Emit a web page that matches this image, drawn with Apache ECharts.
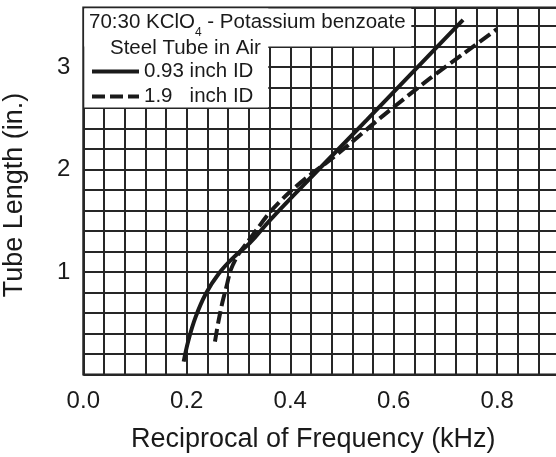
<!DOCTYPE html>
<html>
<head>
<meta charset="utf-8">
<script src="https://cdn.jsdelivr.net/npm/echarts@6/dist/echarts.min.js"></script>
<style>html,body{margin:0;padding:0;background:#fff;}#c{width:556px;height:457px;}</style>
</head>
<body>
<div id="c"></div>
<script>
// Series 1: 0.93 inch ID (solid)
const solidX = [0.194, 0.203, 0.217, 0.237, 0.262, 0.290, 0.322, 0.361, 0.452, 0.548, 0.641, 0.734];
const solidY = [0.125, 0.330, 0.560, 0.790, 0.985, 1.140, 1.283, 1.507, 1.985, 2.483, 2.971, 3.459];
// Series 2: 1.9 inch ID (dashed)
const dashX = [0.2545, 0.261, 0.269, 0.277, 0.285, 0.299, 0.316, 0.3375, 0.361, 0.399, 0.438, 0.477, 0.515, 0.573, 0.670, 0.734, 0.799];
const dashY = [0.320, 0.512, 0.707, 0.863, 1.020, 1.166, 1.283, 1.429, 1.585, 1.780, 1.946, 2.093, 2.249, 2.498, 2.888, 3.127, 3.368];
const seriesNames = ['0.93 inch ID', '1.9   inch ID'];
const xTickLabels = ['0.0', '0.2', '0.4', '0.6', '0.8'];
const yTickLabels = ['1', '2', '3'];
const xTitle = 'Reciprocal of Frequency (kHz)';
const yTitle = 'Tube Length (in.)';
const legendTitle1 = ['70:30 KClO', '4', ' - Potassium benzoate'];
const legendTitle2 = 'Steel Tube in Air';

const zip = (xs, ys) => xs.map((x, i) => [x, ys[i]]);
const ink = '#1a1a1a';
const font = '"Liberation Sans", Arial, sans-serif';

const chart = echarts.init(document.getElementById('c'), null, {renderer: 'canvas'});
chart.setOption({
  backgroundColor: '#fff',
  animation: false,
  textStyle: {fontFamily: font, color: ink},
  grid: {left: 83.3, top: 7.5, width: 476, height: 367, show: true, borderColor: ink, borderWidth: 2,
         backgroundColor: '#fff', containLabel: false, outerBoundsMode: 'none'},
  xAxis: {
    type: 'value', min: 0, max: 0.92, interval: 0.04,
    axisLine: {show: false}, axisTick: {show: false},
    splitLine: {show: true, lineStyle: {color: '#262626', width: 2}},
    axisLabel: {
      fontSize: 24, color: ink, margin: 15, fontFamily: font,
      formatter: v => { const s = v.toFixed(1); return (Math.abs(v * 5 - Math.round(v * 5)) < 1e-6 && xTickLabels.includes(s)) ? s : ''; }
    },
    name: xTitle, nameLocation: 'middle', nameGap: 52,
    nameTextStyle: {fontSize: 27, color: ink, fontFamily: font, padding: [0, 16, 0, 0]}
  },
  yAxis: {
    type: 'value', min: 0, max: 3.58, interval: 0.2,
    axisLine: {show: false}, axisTick: {show: false},
    splitLine: {show: true, lineStyle: {color: '#262626', width: 2}},
    axisLabel: {
      fontSize: 24, color: ink, margin: 13, fontFamily: font, padding: [9, 0, 0, 0],
      formatter: v => { const s = String(Math.round(v)); return (Math.abs(v - Math.round(v)) < 1e-6 && yTickLabels.includes(s)) ? s : ''; }
    },
    name: yTitle, nameLocation: 'middle', nameGap: 55,
    nameTextStyle: {fontSize: 27, color: ink, fontFamily: font, padding: [0, 8, 0, 0]}
  },
  legend: {
    orient: 'vertical', left: 90, top: 61, padding: 0, itemGap: 4,
    itemWidth: 47, itemHeight: 14, z: 20,
    itemStyle: {opacity: 0},
    lineStyle: {width: 4, color: ink},
    textStyle: {fontSize: 20.5, color: ink, fontFamily: font, lineHeight: 20},
    data: seriesNames
  },
  graphic: [
    {type: 'rect', z: 10, shape: {x: 84.3, y: 8.5, width: 327, height: 38}, style: {fill: '#fff'}},
    {type: 'rect', z: 10, shape: {x: 84.3, y: 8.5, width: 184, height: 99}, style: {fill: '#fff'}},
    {type: 'text', z: 11, left: 89, top: 12, style: {
      text: '{a|' + legendTitle1[0] + '}{s|' + legendTitle1[1] + '}{a|' + legendTitle1[2] + '}',
      rich: {
        a: {fontSize: 20.5, fontFamily: font, fill: ink, lineHeight: 22, verticalAlign: 'middle'},
        s: {fontSize: 12, fontFamily: font, fill: ink, padding: [20, 0, 0, 0], verticalAlign: 'middle'}
      }
    }},
    {type: 'text', z: 11, left: 110, top: 38, style: {text: legendTitle2, fontSize: 20.5, fontFamily: font, fill: ink}}
  ],
  series: [
    {name: seriesNames[0], type: 'line', data: zip(solidX, solidY), symbol: 'none', smooth: 0.4, z: 5,
     lineStyle: {color: ink, width: 4, type: 'solid', cap: 'butt'}, itemStyle: {color: ink}},
    {name: seriesNames[1], type: 'line', data: zip(dashX, dashY), symbol: 'none', smooth: 0.3, z: 5,
     lineStyle: {color: ink, width: 4, type: [13, 5], cap: 'butt'}, itemStyle: {color: ink}}
  ]
});
</script>
</body>
</html>
